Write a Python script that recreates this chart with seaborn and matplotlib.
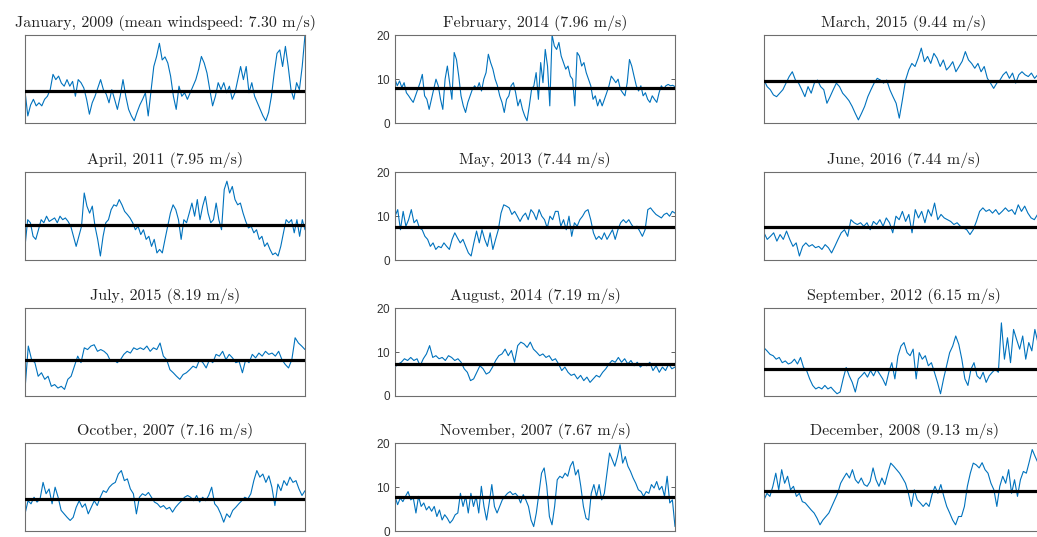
import matplotlib
matplotlib.use("Agg")
import matplotlib.pyplot as plt
import seaborn as sns
import pandas as pd

# Monthly wind speed records (m/s), resampled along each month
jan_2009 = [7.2, 1.5, 4.0, 5.3, 3.8, 4.5, 3.8, 5.3, 6.0, 7.5, 11.0, 9.8, 10.6, 9.0, 8.3, 9.8, 8.3, 9.4, 6.0, 9.8,
            9.1, 7.9, 5.3, 1.9, 4.5, 6.0, 7.9, 9.8, 7.5, 6.5, 4.5, 7.5, 5.3, 3.0, 6.0, 9.8, 6.0, 3.0, 1.5, 0.4,
            2.3, 4.0, 5.3, 6.8, 1.5, 7.2, 12.8, 15.1, 18.1, 14.3, 15.0, 13.6, 10.6, 6.0, 3.0, 8.3, 6.0, 6.8, 5.3, 6.8,
            8.3, 9.8, 12.1, 15.1, 13.6, 11.3, 7.5, 3.8, 6.0, 9.1, 7.5, 9.1, 6.8, 8.3, 5.3, 6.8, 9.8, 12.8, 9.8, 12.8,
            6.8, 9.1, 6.0, 4.5, 3.0, 1.5, 0.4, 2.3, 6.0, 11.3, 15.8, 16.6, 12.8, 17.4, 12.8, 7.5, 5.3, 9.1, 7.5, 12.8,
            20.0]
feb_2014 = [9.9, 8.4, 9.5, 8.0, 9.1, 6.8, 6.1, 5.3, 4.6, 6.1, 7.6, 9.1, 11.0, 6.1, 5.3, 3.0, 5.3, 7.6, 9.9, 8.4,
            5.3, 3.0, 9.9, 12.9, 9.1, 5.3, 16.0, 14.4, 10.6, 6.1, 3.8, 2.3, 4.6, 6.1, 7.6, 8.4, 7.6, 9.1, 7.2, 9.9,
            11.4, 15.6, 13.7, 12.2, 9.9, 8.4, 6.1, 4.6, 2.3, 5.3, 6.1, 8.4, 9.1, 6.8, 3.8, 5.3, 3.0, 1.5, 0.4, 3.8,
            7.6, 8.4, 11.4, 5.3, 13.7, 9.1, 16.7, 12.9, 3.8, 20.0, 17.5, 16.7, 18.3, 15.2, 13.7, 12.2, 12.9, 10.6, 9.9, 3.8,
            16.0, 15.2, 12.9, 13.7, 11.4, 9.9, 8.4, 5.3, 6.1, 3.8, 5.3, 3.8, 5.3, 6.8, 8.4, 10.6, 9.9, 9.1, 9.9, 7.6,
            6.8, 6.1, 9.1, 14.4, 12.9, 10.6, 8.4, 7.2, 8.4, 6.1, 6.8, 5.3, 4.6, 6.1, 5.3, 4.6, 6.8, 8.4, 7.6, 8.4,
            8.7, 8.4, 8.5, 8.2]
mar_2015 = [9.7, 8.2, 7.5, 6.3, 5.9, 6.7, 7.5, 9.0, 10.5, 11.6, 9.7, 9.0, 7.5, 5.9, 8.2, 6.7, 9.0, 9.7, 8.2, 7.5,
            4.4, 5.9, 7.5, 9.0, 8.2, 6.7, 5.9, 5.0, 3.7, 2.1, 0.6, 2.1, 3.7, 5.9, 7.5, 9.0, 10.1, 9.7, 9.0, 9.7,
            7.5, 5.9, 4.4, 1.0, 5.2, 9.7, 12.0, 13.5, 12.8, 14.7, 17.0, 13.9, 15.1, 13.5, 15.8, 14.7, 12.8, 14.3, 12.0, 12.8,
            13.9, 11.6, 12.8, 14.0, 16.2, 14.3, 13.5, 12.4, 13.5, 11.6, 12.8, 10.1, 9.0, 7.8, 9.0, 9.7, 10.9, 11.6, 10.1, 11.3,
            9.0, 10.9, 11.6, 10.9, 10.5, 11.3, 10.1, 10.9, 10.5, 11.0]
apr_2011 = [3.0, 9.1, 8.4, 5.3, 4.6, 6.8, 9.1, 8.4, 9.9, 8.7, 9.1, 9.5, 8.4, 9.9, 9.1, 9.5, 8.7, 7.6, 5.3, 3.0,
            5.3, 7.6, 15.2, 12.2, 10.6, 12.2, 7.6, 4.6, 0.8, 5.3, 8.4, 9.1, 11.4, 12.5, 12.2, 13.7, 12.5, 11.0, 10.3, 9.5,
            8.4, 6.8, 7.6, 5.7, 6.8, 4.6, 5.3, 3.0, 4.6, 1.5, 2.3, 1.5, 4.6, 7.6, 10.6, 12.5, 11.4, 9.1, 4.6, 9.1,
            8.4, 10.6, 12.9, 9.9, 13.7, 9.1, 12.2, 14.4, 10.6, 8.4, 9.1, 12.9, 9.1, 6.8, 16.0, 17.9, 15.2, 16.7, 13.7, 12.5,
            12.9, 10.6, 8.7, 7.2, 7.6, 6.1, 6.8, 4.6, 5.3, 3.0, 3.8, 2.3, 1.1, 1.5, 0.8, 3.0, 6.1, 9.1, 8.4, 9.1,
            6.1, 9.1, 5.3, 9.1, 6.8]
may_2013 = [9.9, 11.4, 6.8, 11.0, 7.6, 9.1, 11.4, 8.4, 9.1, 7.2, 6.8, 5.3, 4.6, 3.0, 3.8, 2.3, 3.0, 2.7, 3.8, 3.0,
            2.3, 4.6, 6.1, 4.9, 3.8, 4.6, 3.0, 1.5, 0.8, 3.8, 6.5, 3.8, 6.8, 4.6, 3.0, 6.1, 2.3, 4.6, 6.8, 10.6,
            12.5, 12.2, 11.8, 10.3, 11.0, 9.9, 8.7, 9.9, 10.6, 9.1, 11.4, 10.6, 9.1, 11.4, 9.9, 9.1, 7.2, 9.9, 9.1, 11.0,
            11.0, 7.6, 9.1, 6.8, 9.9, 5.3, 8.4, 7.6, 9.1, 9.9, 11.0, 11.4, 9.1, 6.1, 4.6, 5.3, 4.6, 6.1, 4.6, 5.7,
            6.8, 4.6, 6.8, 8.4, 9.1, 8.4, 9.1, 8.0, 7.2, 7.6, 6.5, 5.3, 6.8, 11.4, 11.8, 11.0, 10.3, 9.9, 9.5, 10.3,
            10.6, 9.9, 11.0, 10.6]
jun_2016 = [6.1, 4.6, 5.3, 6.1, 4.2, 5.7, 4.6, 6.5, 4.6, 3.0, 3.8, 0.8, 3.0, 3.8, 3.0, 3.4, 2.7, 3.0, 2.3, 3.4,
            2.7, 1.5, 3.0, 4.6, 6.1, 6.8, 5.3, 9.1, 8.4, 8.0, 8.4, 7.6, 8.4, 6.8, 8.7, 8.0, 9.1, 7.6, 9.5, 8.4,
            6.1, 9.9, 9.1, 11.0, 8.7, 10.3, 6.1, 11.4, 9.5, 11.0, 8.4, 11.4, 9.9, 12.9, 9.1, 10.3, 9.5, 9.1, 8.7, 8.0,
            8.4, 7.6, 7.2, 6.8, 5.7, 6.8, 8.7, 11.0, 11.8, 11.0, 11.4, 10.6, 11.4, 10.3, 11.0, 11.8, 11.0, 11.4, 10.3, 12.5,
            11.0, 12.2, 10.6, 9.5, 9.1, 10.3, 9.9, 10.6]
jul_2015 = [1.4, 11.3, 8.2, 7.5, 4.4, 5.2, 3.7, 4.4, 2.1, 2.5, 1.7, 2.1, 1.4, 3.7, 4.4, 6.7, 9.0, 7.5, 10.9, 10.5,
            11.3, 11.6, 10.1, 10.5, 10.1, 9.4, 7.8, 8.2, 7.5, 8.2, 9.4, 10.1, 9.7, 10.9, 10.5, 10.9, 10.5, 11.3, 10.1, 10.9,
            10.5, 12.0, 9.0, 8.2, 5.9, 5.2, 4.4, 3.7, 4.8, 5.2, 5.9, 6.7, 6.3, 8.2, 7.5, 6.3, 8.2, 7.5, 9.4, 9.0,
            10.1, 8.2, 9.4, 8.6, 7.5, 7.8, 5.2, 8.2, 7.5, 9.4, 8.6, 9.7, 9.0, 10.1, 9.4, 9.7, 9.0, 10.1, 8.2, 7.1,
            6.3, 8.2, 13.2, 12.0, 11.3, 10.5]
aug_2014 = [6.5, 7.2, 7.6, 8.4, 8.0, 8.7, 8.0, 8.4, 6.8, 8.4, 9.5, 11.4, 8.7, 9.1, 8.4, 8.7, 8.0, 9.1, 8.7, 8.0,
            8.4, 7.6, 6.1, 5.3, 3.4, 3.8, 5.3, 6.8, 6.1, 4.9, 5.3, 6.5, 8.0, 9.1, 9.5, 10.6, 9.1, 10.3, 7.6, 11.4,
            12.2, 11.8, 11.0, 12.2, 10.6, 9.9, 9.1, 9.5, 8.7, 9.1, 8.0, 8.4, 7.2, 5.7, 6.5, 5.3, 4.6, 4.9, 3.8, 4.6,
            3.4, 4.2, 3.0, 3.8, 4.6, 4.2, 5.3, 6.1, 7.2, 8.0, 7.6, 8.7, 7.6, 8.4, 7.2, 8.0, 6.8, 7.6, 6.5, 7.2,
            6.8, 7.6, 5.7, 6.8, 5.3, 6.5, 5.7, 7.2, 6.1, 6.5]
sep_2012 = [10.9, 10.2, 9.4, 9.1, 8.3, 8.7, 7.5, 7.9, 7.2, 7.5, 8.3, 7.2, 8.7, 6.4, 5.7, 3.8, 2.3, 1.5, 1.9, 1.5,
            2.3, 1.5, 1.9, 1.1, 0.4, 0.8, 3.8, 6.4, 4.5, 3.0, 0.8, 3.8, 4.5, 5.3, 4.2, 5.7, 4.5, 6.0, 4.9, 3.8,
            2.3, 5.3, 7.5, 3.8, 9.0, 11.3, 12.1, 9.8, 9.1, 10.6, 3.8, 9.8, 8.3, 9.1, 6.8, 7.5, 5.3, 3.0, 0.4, 3.8,
            6.8, 9.8, 11.3, 13.6, 11.7, 8.3, 3.8, 2.3, 6.0, 7.5, 4.5, 3.8, 5.3, 3.0, 4.5, 5.3, 6.0, 5.3, 16.6, 8.3,
            13.2, 7.5, 15.1, 12.8, 10.6, 13.6, 8.3, 12.1, 10.2, 15.1, 12.1, 13.0, 11.0]
oct_2007 = [3.8, 6.8, 6.1, 7.6, 6.5, 7.2, 11.0, 8.4, 9.5, 6.1, 9.9, 7.6, 4.6, 3.8, 3.0, 2.3, 3.0, 5.3, 6.8, 5.3,
            6.1, 3.8, 5.3, 6.8, 5.7, 7.6, 9.1, 8.7, 9.9, 10.6, 11.0, 12.9, 13.7, 11.4, 11.8, 9.5, 8.4, 3.8, 7.6, 8.4,
            8.0, 8.7, 7.6, 6.5, 6.1, 5.3, 5.7, 4.9, 5.3, 4.2, 5.3, 6.1, 6.8, 7.6, 8.0, 7.6, 6.8, 8.0, 6.5, 7.6,
            6.8, 8.0, 9.9, 6.1, 5.3, 3.8, 1.9, 3.8, 3.0, 4.6, 5.3, 6.1, 6.8, 7.6, 7.2, 8.4, 11.4, 13.7, 12.2, 12.9,
            11.0, 12.5, 9.9, 5.7, 10.6, 9.1, 11.4, 10.3, 12.2, 11.0, 11.4, 9.5, 8.0, 9.1]
nov_2007 = [7.8, 5.9, 7.4, 6.6, 7.8, 8.9, 7.0, 7.4, 4.0, 7.8, 5.5, 6.3, 4.7, 5.5, 4.4, 5.5, 3.2, 4.7, 2.4, 3.6,
            2.8, 1.7, 2.4, 3.6, 4.0, 8.5, 5.5, 7.8, 4.0, 8.5, 5.5, 7.8, 4.0, 10.1, 5.5, 2.4, 6.3, 10.5, 5.5, 4.0,
            5.5, 7.0, 7.8, 8.5, 8.9, 8.2, 8.5, 7.8, 6.3, 8.2, 7.0, 5.5, 2.4, 0.9, 4.0, 8.5, 13.1, 14.3, 10.1, 3.2,
            1.3, 5.5, 11.6, 12.4, 12.0, 13.1, 12.4, 14.7, 15.8, 12.7, 13.9, 10.1, 5.5, 2.8, 2.4, 8.5, 10.5, 7.8, 10.5, 7.0,
            8.5, 13.1, 17.7, 16.2, 14.7, 16.9, 19.6, 15.4, 16.9, 14.7, 13.5, 12.0, 10.8, 9.3, 8.9, 7.8, 8.9, 8.5, 10.5, 9.7,
            11.2, 9.3, 10.1, 7.8, 12.4, 6.3, 7.0, 0.9]
dec_2008 = [7.0, 8.5, 7.8, 10.1, 13.1, 9.3, 13.9, 10.8, 12.4, 9.3, 10.1, 7.8, 8.5, 6.6, 6.3, 5.5, 4.7, 4.0, 2.8, 1.3,
            2.4, 3.2, 4.0, 5.5, 7.0, 8.5, 10.8, 12.0, 13.1, 12.0, 13.9, 11.6, 10.8, 12.0, 10.5, 10.1, 11.2, 14.3, 11.6, 10.1,
            12.0, 10.5, 13.1, 15.4, 14.7, 13.9, 13.1, 12.0, 10.8, 8.5, 5.5, 9.3, 7.0, 6.3, 5.5, 6.3, 5.5, 8.2, 10.1, 8.5,
            10.5, 7.8, 5.5, 4.0, 2.4, 1.3, 3.2, 3.2, 5.5, 10.1, 13.1, 15.4, 15.0, 14.3, 15.5, 13.9, 13.1, 10.8, 9.3, 5.5,
            10.1, 12.4, 10.8, 13.9, 8.5, 11.6, 7.8, 11.6, 13.5, 13.1, 15.7, 18.5, 16.9, 15.4, 17.0, 15.5]

series = [jan_2009, feb_2014, mar_2015, apr_2011, may_2013, jun_2016,
          jul_2015, aug_2014, sep_2012, oct_2007, nov_2007, dec_2008]
titles = ["January, 2009 (mean windspeed: 7.30 m/s)", "February, 2014 (7.96 m/s)", "March, 2015 (9.44 m/s)",
          "April, 2011 (7.95 m/s)", "May, 2013 (7.44 m/s)", "June, 2016 (7.44 m/s)",
          "July, 2015 (8.19 m/s)", "August, 2014 (7.19 m/s)", "September, 2012 (6.15 m/s)",
          "Ocotber, 2007 (7.16 m/s)", "November, 2007 (7.67 m/s)", "December, 2008 (9.13 m/s)"]
monthly_mean = [7.30, 7.96, 9.44, 7.95, 7.44, 7.44, 8.19, 7.19, 6.15, 7.16, 7.67, 9.13]
y_ticks = [0, 10, 20]

sns.set_theme(style="white")
plt.rcParams["font.family"] = ["cmr10", "DejaVu Serif"]
plt.rcParams["axes.formatter.use_mathtext"] = True

W, H = 1037, 537
fig = plt.figure(figsize=(W / 100, H / 100), dpi=100)
fig.patch.set_facecolor("white")

col_left = [25, 395, 764]
row_top = [35, 172, 308, 443]
ax_w, ax_h = 280, 87.5

line_blue = "#0072BD"
edge = "#6e6e6e"

for i, (vals, title, mu) in enumerate(zip(series, titles, monthly_mean)):
    r, c = divmod(i, 3)
    x0 = col_left[c] / W
    y0 = 1 - (row_top[r] + ax_h) / H
    ax = fig.add_axes([x0, y0, ax_w / W, ax_h / H])
    df = pd.DataFrame({"t": range(len(vals)), "speed": vals})
    sns.lineplot(data=df, x="t", y="speed", ax=ax, color=line_blue, linewidth=0.8)
    ax.axhline(mu, color="black", linewidth=2.3, zorder=3)
    ax.set_xlim(0, len(vals) - 1)
    ax.set_ylim(0, 20)
    ax.set_xlabel("")
    ax.set_ylabel("")
    ax.set_xticks([])
    for s in ax.spines.values():
        s.set_visible(True)
        s.set_color(edge)
        s.set_linewidth(0.8)
    if c == 1:
        ax.set_yticks(y_ticks)
        ax.tick_params(axis="y", direction="in", length=3, width=0.6, color="#444444",
                       left=True, right=True, labelsize=8.5, labelcolor="#333333", pad=3)
        for lbl in ax.get_yticklabels():
            lbl.set_family("Liberation Sans")
    else:
        ax.set_yticks([])
    ax.set_title(title, fontsize=11.5, color="#222222", pad=6)

fig.savefig("out.png", dpi=100, facecolor="white")
